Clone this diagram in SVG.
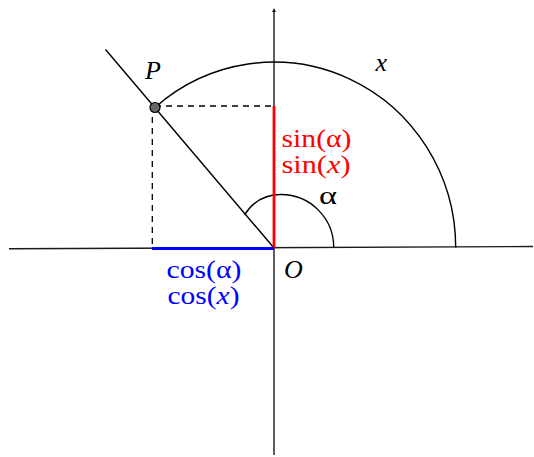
<svg xmlns="http://www.w3.org/2000/svg" width="534" height="457" viewBox="0 0 534 457">
<style>
.ax{stroke:#1a1a1a;stroke-width:1.4;fill:none}
.ln{stroke:#000;stroke-width:1.4;fill:none}
.dash{stroke:#000;stroke-width:1.3;fill:none;stroke-dasharray:6,5}
.t{font-family:"Liberation Serif","Times New Roman",serif;font-size:26px}
.it{font-style:italic}
.red{fill:#ff0000}
.blue{fill:#0000ff}
</style>
<rect width="534" height="457" fill="#fff"/>
<g id="connectors">
<line class="ax" x1="9" y1="248.8" x2="533" y2="246.5"/>
<line class="ax" x1="274" y1="455" x2="274" y2="11"/>
<path d="M272,12 L276,12 L274,8 Z" fill="#1a1a1a"/>
<line class="ln" x1="105.5" y1="49.5" x2="274" y2="248"/>
<path class="ln" d="M155,107.5 A181.7 185.7 0 0 1 455.7 247.5"/>
<path class="ln" d="M244.5,215 C252,203 264,194.5 281,194.5 C310,194.5 333.5,218 333.7,247"/>
<line class="dash" x1="155" y1="106" x2="274" y2="106"/>
<line class="dash" x1="152.3" y1="106" x2="152.3" y2="248"/>
<line x1="274" y1="106" x2="274" y2="248.5" stroke="#ff0000" stroke-width="2.8"/>
<line x1="152" y1="248.5" x2="274" y2="248.5" stroke="#0000ff" stroke-width="3"/>
</g>
<g id="P">
<circle cx="155" cy="107.5" r="5" fill="#666" stroke="#000" stroke-width="1.2"/>
<text class="t it" x="145" y="79" font-size="26">P</text>
</g>
<g id="O"><text class="t it" x="284" y="278">O</text></g>
<g id="x-label"><text class="t it" x="375.5" y="71" font-size="29">x</text></g>
<g id="alpha-label"><text class="t" x="319" y="204" font-size="31" textLength="18" lengthAdjust="spacingAndGlyphs">α</text></g>
<g id="sin">
<text class="t red" x="281.5" y="147.3" font-size="27" textLength="70" lengthAdjust="spacingAndGlyphs">sin(α)</text>
<text class="t red" x="281.5" y="173.3" font-size="27" textLength="69" lengthAdjust="spacingAndGlyphs">sin(<tspan class="it">x</tspan>)</text>
</g>
<g id="cos">
<text class="t blue" x="166.5" y="278.3" font-size="27" textLength="75" lengthAdjust="spacingAndGlyphs">cos(α)</text>
<text class="t blue" x="167.5" y="304.3" font-size="27" textLength="72" lengthAdjust="spacingAndGlyphs">cos(<tspan class="it">x</tspan>)</text>
</g>
</svg>
